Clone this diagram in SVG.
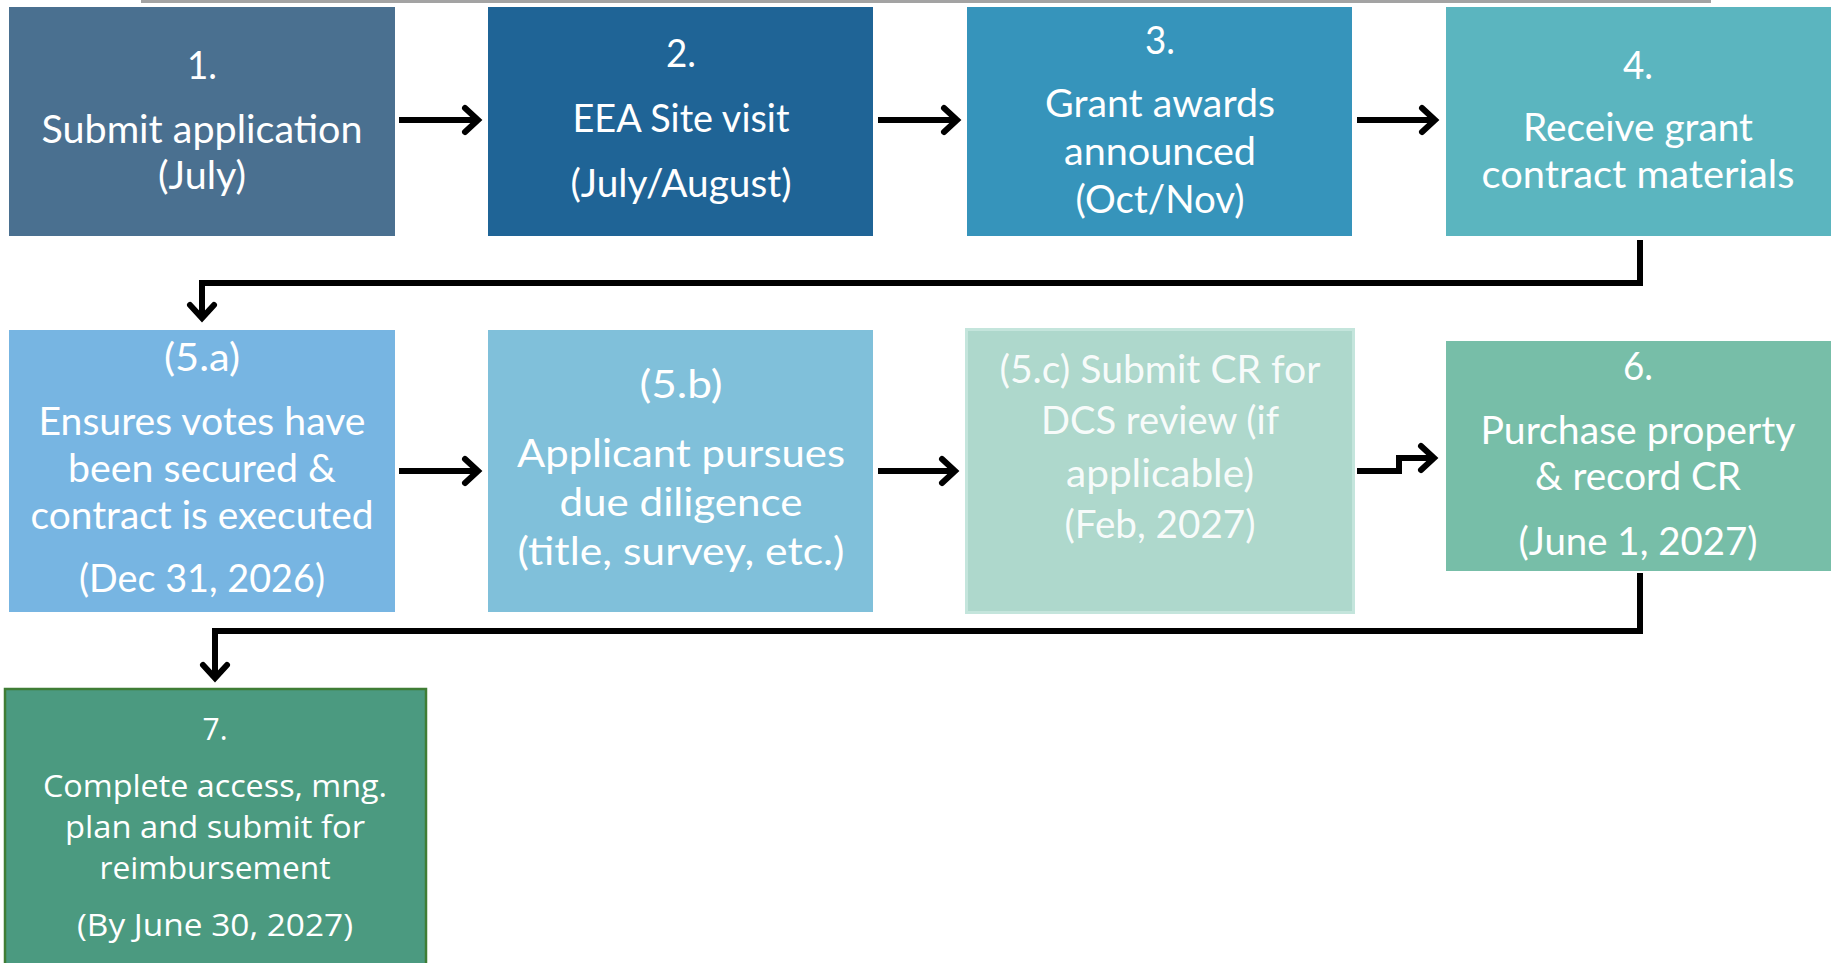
<svg xmlns="http://www.w3.org/2000/svg" width="1831" height="963" viewBox="0 0 1831 963">
<style>
.t{font-family:Lato,"Open Sans","Liberation Sans",sans-serif;font-size:39px;fill:#ffffff;text-anchor:middle}
.t7{font-family:"Open Sans","Noto Sans","Liberation Sans",sans-serif;font-size:31px;fill:#ffffff;text-anchor:middle}
.c{fill:none;stroke:#000000;stroke-width:6;stroke-linejoin:miter}
</style>
<defs>
<marker id="ah" markerUnits="userSpaceOnUse" markerWidth="30" markerHeight="30" refX="16" refY="15" orient="auto" overflow="visible">
<path d="M3,3 L16,15 L3,27" fill="none" stroke="#000" stroke-width="6" stroke-linecap="round" stroke-linejoin="miter"/>
</marker>
</defs>
<rect x="141" y="0" width="1570" height="3" fill="#a3a3a3"/>
<g id="connectors">
<path class="c" d="M399,120 L478,120" marker-end="url(#ah)"/>
<path class="c" d="M878,120 L957,120" marker-end="url(#ah)"/>
<path class="c" d="M1357,120 L1435,120" marker-end="url(#ah)"/>
<path class="c" d="M1640,240 L1640,283 L202,283 L202,318" marker-end="url(#ah)"/>
<path class="c" d="M399,471 L478,471" marker-end="url(#ah)"/>
<path class="c" d="M878,471 L955,471" marker-end="url(#ah)"/>
<path class="c" d="M1357,471 L1399,471 L1399,458 L1434,458" marker-end="url(#ah)"/>
<path class="c" d="M1640,573 L1640,631 L215,631 L215,678" marker-end="url(#ah)"/>
</g>
<g id="n1">
<rect x="9" y="7" width="386" height="229" fill="#4a7090"/>
<text class="t" x="202" y="79" textLength="30" lengthAdjust="spacingAndGlyphs">1.</text>
<text class="t" x="202" y="143" textLength="321" lengthAdjust="spacingAndGlyphs">Submit application</text>
<text class="t" x="202" y="189" textLength="88" lengthAdjust="spacingAndGlyphs">(July)</text>
</g>
<g id="n2">
<rect x="488" y="7" width="385" height="229" fill="#1f6496"/>
<text class="t" x="681" y="67" textLength="30" lengthAdjust="spacingAndGlyphs">2.</text>
<text class="t" x="681" y="132" textLength="217" lengthAdjust="spacingAndGlyphs">EEA Site visit</text>
<text class="t" x="681" y="197" textLength="221" lengthAdjust="spacingAndGlyphs">(July/August)</text>
</g>
<g id="n3">
<rect x="967" y="7" width="385" height="229" fill="#3694bb"/>
<text class="t" x="1160" y="54" textLength="30" lengthAdjust="spacingAndGlyphs">3.</text>
<text class="t" x="1160" y="117" textLength="230" lengthAdjust="spacingAndGlyphs">Grant awards</text>
<text class="t" x="1160" y="165" textLength="192" lengthAdjust="spacingAndGlyphs">announced</text>
<text class="t" x="1160" y="213" textLength="169" lengthAdjust="spacingAndGlyphs">(Oct/Nov)</text>
</g>
<g id="n4">
<rect x="1446" y="7" width="385" height="229" fill="#5bb5bf"/>
<text class="t" x="1638" y="79" textLength="30" lengthAdjust="spacingAndGlyphs">4.</text>
<text class="t" x="1638" y="141" textLength="230" lengthAdjust="spacingAndGlyphs">Receive grant</text>
<text class="t" x="1638" y="188" textLength="313" lengthAdjust="spacingAndGlyphs">contract materials</text>
</g>
<g id="n5a">
<rect x="9" y="330" width="386" height="282" fill="#77b5e2"/>
<text class="t" x="202" y="371" textLength="76" lengthAdjust="spacingAndGlyphs">(5.a)</text>
<text class="t" x="202" y="435" textLength="327" lengthAdjust="spacingAndGlyphs">Ensures votes have</text>
<text class="t" x="202" y="482" textLength="268" lengthAdjust="spacingAndGlyphs">been secured &amp;</text>
<text class="t" x="202" y="529" textLength="343" lengthAdjust="spacingAndGlyphs">contract is executed</text>
<text class="t" x="202" y="592" textLength="246" lengthAdjust="spacingAndGlyphs">(Dec 31, 2026)</text>
</g>
<g id="n5b">
<rect x="488" y="330" width="385" height="282" fill="#80c0da"/>
<text class="t" x="681" y="398" textLength="83" lengthAdjust="spacingAndGlyphs">(5.b)</text>
<text class="t" x="681" y="467" textLength="328" lengthAdjust="spacingAndGlyphs">Applicant pursues</text>
<text class="t" x="681" y="516" textLength="243" lengthAdjust="spacingAndGlyphs">due diligence</text>
<text class="t" x="681" y="565" textLength="327" lengthAdjust="spacingAndGlyphs">(title, survey, etc.)</text>
</g>
<g id="n5c">
<rect x="966.5" y="329.5" width="387" height="283" fill="#aed8cc" stroke="#c4e5dc" stroke-width="3"/>
<text class="t" x="1160" y="383" textLength="321" lengthAdjust="spacingAndGlyphs" fill-opacity="0.92">(5.c) Submit CR for</text>
<text class="t" x="1160" y="434" textLength="238" lengthAdjust="spacingAndGlyphs" fill-opacity="0.92">DCS review (if</text>
<text class="t" x="1160" y="487" textLength="188" lengthAdjust="spacingAndGlyphs" fill-opacity="0.92">applicable)</text>
<text class="t" x="1160" y="538" textLength="191" lengthAdjust="spacingAndGlyphs" fill-opacity="0.92">(Feb, 2027)</text>
</g>
<g id="n6">
<rect x="1446" y="341" width="385" height="230" fill="#77bea8"/>
<text class="t" x="1638" y="380" textLength="30" lengthAdjust="spacingAndGlyphs">6.</text>
<text class="t" x="1638" y="444" textLength="315" lengthAdjust="spacingAndGlyphs">Purchase property</text>
<text class="t" x="1638" y="490" textLength="206" lengthAdjust="spacingAndGlyphs">&amp; record CR</text>
<text class="t" x="1638" y="555" textLength="239" lengthAdjust="spacingAndGlyphs">(June 1, 2027)</text>
</g>
<g id="n7">
<rect x="5" y="689" width="421" height="280" fill="#4b9a80" stroke="#3f7d35" stroke-width="2.5"/>
<text class="t7" x="215" y="740" textLength="25" lengthAdjust="spacingAndGlyphs">7.</text>
<text class="t7" x="215" y="797" textLength="344" lengthAdjust="spacingAndGlyphs">Complete access, mng.</text>
<text class="t7" x="215" y="838" textLength="300" lengthAdjust="spacingAndGlyphs">plan and submit for</text>
<text class="t7" x="215" y="879" textLength="231" lengthAdjust="spacingAndGlyphs">reimbursement</text>
<text class="t7" x="215" y="936" textLength="276" lengthAdjust="spacingAndGlyphs">(By June 30, 2027)</text>
</g>
</svg>
